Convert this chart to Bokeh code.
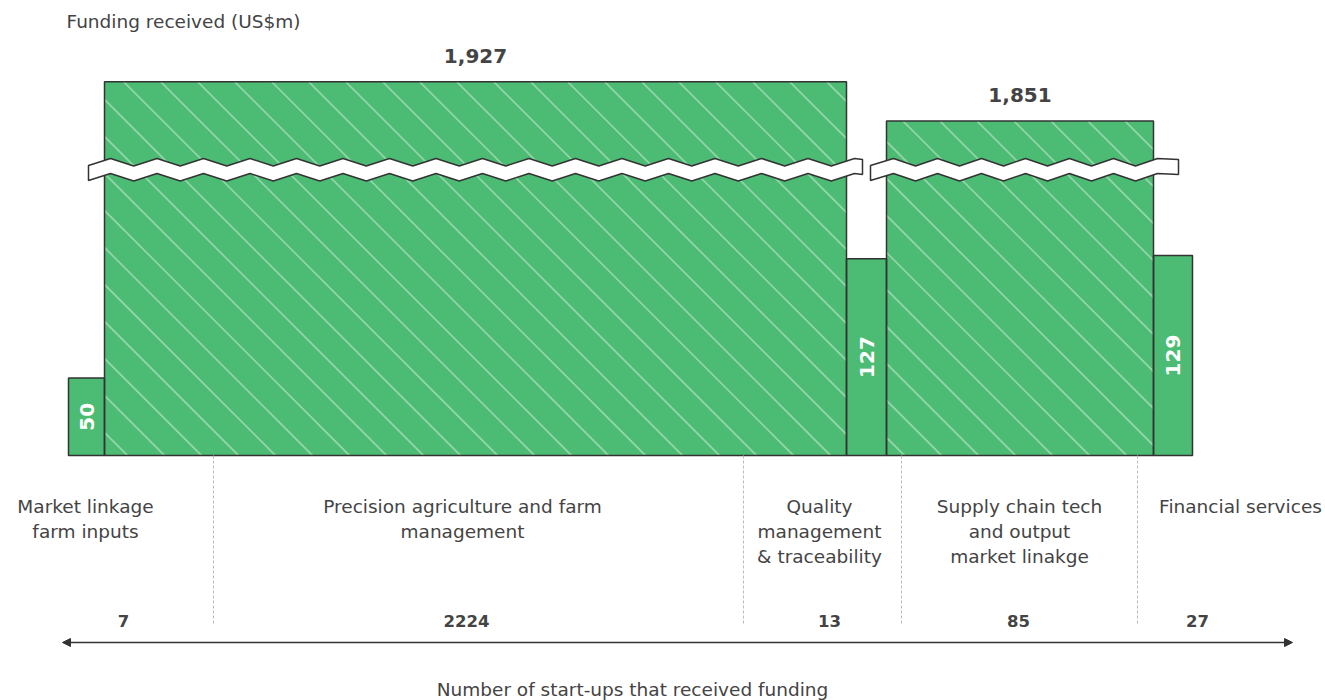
import math
from bokeh.plotting import figure
from bokeh.models import Range1d, ColumnDataSource, Arrow, NormalHead
from bokeh.core.properties import value
from bokeh.embed import file_html
from bokeh.resources import INLINE

# ---------------- data ----------------
categories = ["Market linkage\nfarm inputs",
              "Precision agriculture and farm\nmanagement",
              "Quality\nmanagement\n& traceability",
              "Supply chain tech\nand output\nmarket linakge",
              "Financial services"]
funding = [50, 1927, 127, 1851, 129]          # US$m
startups = [7, 2224, 13, 85, 27]              # number of start-ups
funding_labels = ["50", "1,927", "127", "1,851", "129"]

# ---------------- layout ----------------
W, H = 1325, 700
FONT = "DejaVu Sans"
GREEN = "#4cbb73"
DARK = "#333333"
TXT = "#444444"
BASE_PX = 455          # baseline pixel row
K = 1.55               # px per display unit
bar_widths = [36, 742, 40, 267, 39]
x_start = 68
label_centers = [85, 462, 819, 1019, 1240]
count_centers = [123, 466, 829, 1018, 1197]
separators = [213, 743, 901, 1137]
HATCH_STEP = 37        # px between hatch lines (horizontal)
HATCH_PHASE = 16

# broken axis: lower segment linear, upper segment compressed
BREAK_LO = 200
UP_START, UP_DISP, UP_SCALE = 1700, 165.5, 0.333


def disp(v):
    return v if v <= BREAK_LO else UP_DISP + (v - UP_START) * UP_SCALE


def py(pix):
    """pixel row -> data y"""
    return (BASE_PX - pix) / K


p = figure(width=W, height=H, output_backend="svg", toolbar_location=None,
           x_range=Range1d(0, W), y_range=Range1d(py(H), py(0)),
           x_axis_type=None, y_axis_type=None, min_border=0)
p.outline_line_color = None
p.grid.visible = False
p.background_fill_color = "white"

lefts, rights = [], []
x = x_start
for w in bar_widths:
    lefts.append(x)
    rights.append(x + w)
    x += w
centers = [(l + r) / 2 for l, r in zip(lefts, rights)]
tops = [disp(v) for v in funding]
big = [v > BREAK_LO for v in funding]

src = ColumnDataSource(dict(l=lefts, r=rights, t=tops))
# fills
p.quad(left="l", right="r", top="t", bottom=0, source=src,
       fill_color=GREEN, line_color=None)

# hatch lines (45 deg in screen space, "\" direction) clipped to the big bars
hx, hy = [], []
for l, r, t, b in zip(lefts, rights, tops, big):
    if not b:
        continue
    T = t * K  # bar height in px
    c = HATCH_PHASE + HATCH_STEP * math.floor((l - HATCH_PHASE) / HATCH_STEP)
    while c < r + T:
        x1 = max(l, c - T)
        x2 = min(r, c)
        if x2 > x1:
            hx.append([x1, x2])
            hy.append([(c - x1) / K, (c - x2) / K])
        c += HATCH_STEP
p.multi_line(xs=hx, ys=hy, line_color="white", line_alpha=0.38, line_width=1.8)

# outlines
p.quad(left="l", right="r", top="t", bottom=0, source=src,
       fill_color=None, line_color=DARK, line_width=1.5)

# break bands (zigzag)
def band(x0, x1, first_peak, period):
    top_peak, top_valley, thick = 158, 165.5, 15
    xs = [x0]
    ys_top = [165]
    xp = first_peak
    i = 0
    while xp < x1:
        xs.append(xp)
        ys_top.append(top_peak if i % 2 == 0 else top_valley)
        xp += period / 2
        i += 1
    xs.append(x1)
    ys_top.append(165 if i % 2 == 0 else 159)
    top_pts = [(a, py(b)) for a, b in zip(xs, ys_top)]
    bot_pts = [(a, py(b + thick)) for a, b in zip(xs, ys_top)][::-1]
    pts = top_pts + bot_pts
    return [q[0] for q in pts], [q[1] for q in pts]

bx1, by1 = band(88, 862, 110, 46.5)
bx2, by2 = band(870, 1178, 893, 44)
p.patches(xs=[bx1, bx2], ys=[by1, by2], fill_color="white",
          line_color=DARK, line_width=1.5)

# labels on top of big bars
p.text(x=[c for c, b in zip(centers, big) if b],
       y=[t for t, b in zip(tops, big) if b],
       text=[s for s, b in zip(funding_labels, big) if b],
       text_font=value(FONT), text_font_style="bold", text_font_size="20px",
       text_color=TXT, text_align="center", text_baseline="alphabetic", y_offset=-26)

# labels inside small bars (rotated)
p.text(x=[c for c, b in zip(centers, big) if not b],
       y=[t / 2 for t, b in zip(tops, big) if not b],
       text=[s for s, b in zip(funding_labels, big) if not b],
       angle=math.pi / 2,
       text_font=value(FONT), text_font_style="bold", text_font_size="20px",
       text_color="white", text_align="center", text_baseline="middle")

# separators
for sx in separators:
    p.line([sx, sx], [py(455), py(625)], line_color="#bbbbbb",
           line_width=1, line_dash="3 2")

# category labels
lx, ly, lt = [], [], []
for c, cat in zip(label_centers, categories):
    for j, line in enumerate(cat.split("\n")):
        lx.append(c)
        ly.append(py(506 + 25 * j))
        lt.append(line)
p.text(x=lx, y=ly, text=lt, text_font=value(FONT), text_font_size="18.5px",
       text_color=TXT, text_align="center", text_baseline="middle")

# counts
p.text(x=count_centers, y=[py(620)] * len(startups), text=[str(s) for s in startups],
       text_font=value(FONT), text_font_style="bold", text_font_size="16.5px",
       text_color=TXT, text_align="center", text_baseline="middle")

# arrow
p.add_layout(Arrow(x_start=62, y_start=py(642), x_end=1292, y_end=py(642),
                   line_color=DARK, line_width=1.5,
                   start=NormalHead(size=8, fill_color=DARK, line_color=DARK),
                   end=NormalHead(size=8, fill_color=DARK, line_color=DARK)))

# titles
p.text(x=[632], y=[py(689)], text=["Number of start-ups that received funding"],
       text_font=value(FONT), text_font_size="18.5px", text_color=TXT,
       text_align="center", text_baseline="middle")
p.text(x=[66], y=[py(21)], text=["Funding received (US$m)"],
       text_font=value(FONT), text_font_size="18.5px", text_color=TXT,
       text_align="left", text_baseline="middle")

open("out.html", "w").write(file_html(p, INLINE))
